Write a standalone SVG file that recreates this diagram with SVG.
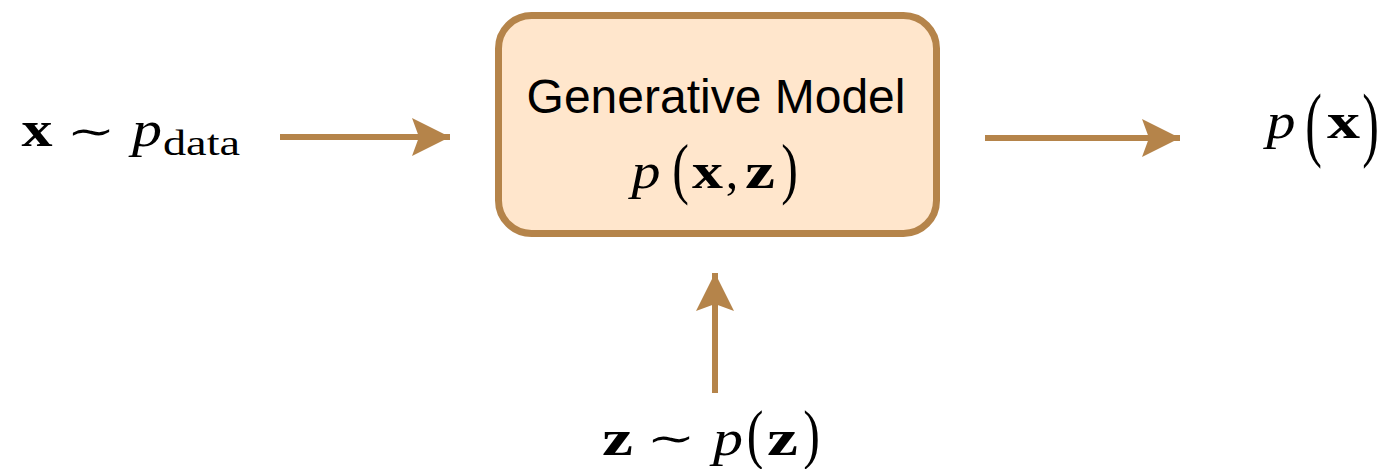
<svg xmlns="http://www.w3.org/2000/svg" width="1384" height="469" viewBox="0 0 1384 469">
  <style>
    .box { fill: #FFE6CC; stroke: #B5844A; stroke-width: 7; }
    .edge { stroke: #B5844A; stroke-width: 6; fill: none; }
    .label { font-family: "Liberation Sans", Arial, sans-serif; font-size: 48px; fill: #000; text-anchor: middle; }
    .m { font-family: "Liberation Serif", "Times New Roman", serif; font-size: 50px; fill: #000; text-anchor: middle; }
    .it { font-style: italic; }
    .bf { font-weight: bold; }
    .sub { font-size: 36px; text-anchor: start; }
    .tl { font-family: "DejaVu Serif", serif; font-size: 40px; fill: #000; text-anchor: middle; }
  </style>
  <defs>
    <marker id="arrow" markerUnits="userSpaceOnUse" markerWidth="40" markerHeight="40" refX="38" refY="19" orient="auto">
      <path d="M0,0 L38,19 L0,38 L7,19 Z" fill="#B5844A"/>
    </marker>
  </defs>

  <g id="connectors">
    <line class="edge" x1="280" y1="137" x2="450" y2="137" marker-end="url(#arrow)"/>
    <line class="edge" x1="985" y1="138" x2="1180" y2="138" marker-end="url(#arrow)"/>
    <line class="edge" x1="715" y1="393" x2="715" y2="273" marker-end="url(#arrow)"/>
  </g>

  <g id="model">
    <rect class="box" x="498.5" y="15.5" width="438" height="218" rx="33" ry="33"/>
    <text class="label" x="716" y="113">Generative Model</text>
    <text class="m it" x="646" y="188" textLength="29" lengthAdjust="spacingAndGlyphs">p</text>
    <text class="m" transform="translate(680.5,174) scale(1,1.36)" x="0" y="12.5">(</text>
    <text class="m bf" x="707.5" y="188" textLength="31" lengthAdjust="spacingAndGlyphs">x</text>
    <text class="m" x="732" y="188">,</text>
    <text class="m bf" x="760" y="188" textLength="30" lengthAdjust="spacingAndGlyphs">z</text>
    <text class="m" transform="translate(789.5,174) scale(1,1.36)" x="0" y="12.5">)</text>
  </g>

  <g id="input-x">
    <text class="m bf" x="37" y="146" textLength="31" lengthAdjust="spacingAndGlyphs">x</text>
    <text class="tl" transform="translate(91,145) scale(1.45,1)" x="0" y="0">∼</text>
    <text class="m it" x="147" y="146" textLength="30" lengthAdjust="spacingAndGlyphs">p</text>
    <text class="m sub" x="163" y="155" textLength="77" lengthAdjust="spacingAndGlyphs">data</text>
  </g>

  <g id="output-px">
    <text class="m it" x="1281" y="138" textLength="29" lengthAdjust="spacingAndGlyphs">p</text>
    <text class="m" transform="translate(1313.5,130) scale(1,1.64)" x="0" y="12.5">(</text>
    <text class="m bf" x="1343.5" y="138" textLength="33" lengthAdjust="spacingAndGlyphs">x</text>
    <text class="m" transform="translate(1370.5,130) scale(1,1.64)" x="0" y="12.5">)</text>
  </g>

  <g id="input-z">
    <text class="m bf" x="617.5" y="455" textLength="31" lengthAdjust="spacingAndGlyphs">z</text>
    <text class="tl" transform="translate(671,452) scale(1.45,1)" x="0" y="0">∼</text>
    <text class="m it" x="728" y="455" textLength="30" lengthAdjust="spacingAndGlyphs">p</text>
    <text class="m" transform="translate(755,440) scale(1,1.3)" x="0" y="12.5">(</text>
    <text class="m bf" x="782.5" y="455" textLength="31" lengthAdjust="spacingAndGlyphs">z</text>
    <text class="m" transform="translate(811.5,440) scale(1,1.3)" x="0" y="12.5">)</text>
  </g>
</svg>
